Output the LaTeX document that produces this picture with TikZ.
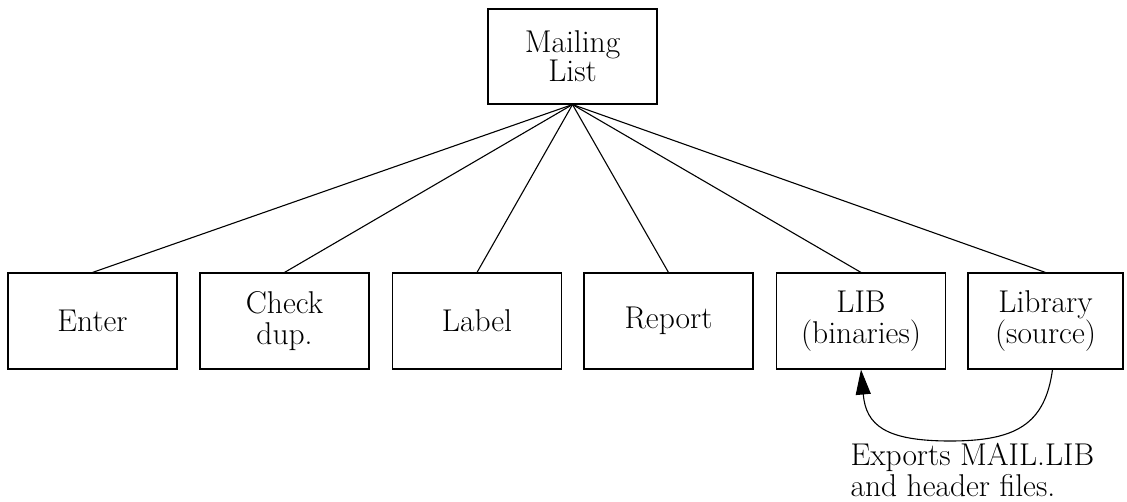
\documentclass[tikz,border=0pt]{standalone}
\usepackage{fontspec}
\usetikzlibrary{arrows.meta,positioning}

\begin{document}
\begin{tikzpicture}[
  x=1pt, y=-1pt,
  font=\rmfamily\fontsize{31.5}{31}\selectfont,
  line width=1.1pt,
  >={Triangle[length=25pt,width=15pt]},
  modbox/.style={draw, rectangle, minimum width=169pt, minimum height=96pt, align=center, inner sep=0pt},
  note/.style={align=left, inner sep=0pt},
]
\useasboundingbox (0,0) rectangle (1127,502);

% Top module
\node[modbox, minimum height=95pt, font=\rmfamily\fontsize{31.5}{27}\selectfont] (mail) at (572.5, 56.5) {Mailing\\List};

% ========== sub modules ==========
\node[modbox] (enter) at (92.5, 321) {Enter};
\node[modbox] (check) at (284.5, 321) {Check\\dup.};
\node[modbox] (label) at (477, 321) {Label};
\node[modbox] (report) at (668.5, 321) {Report};
\node[modbox] (libbin) at (861, 321) {LIB\\(binaries)};
\node[modbox, minimum width=155pt] (libsrc) at (1045.5, 321) {Library\\(source)};

% Tree lines
\foreach \sub in {enter,check,label,report,libbin,libsrc}
  \draw (mail.south) -- (\sub.north);

% Export arrow
\draw[->] ([xshift=7pt]libsrc.south) .. controls (1045,425) and (1015,441) .. (950,441)
  .. controls (885,441) and (866,425) .. (libbin.south);
\node[note, anchor=north west] (exports) at (850, 443) {Exports MAIL.LIB\\and header files.};

\end{tikzpicture}
\end{document}
